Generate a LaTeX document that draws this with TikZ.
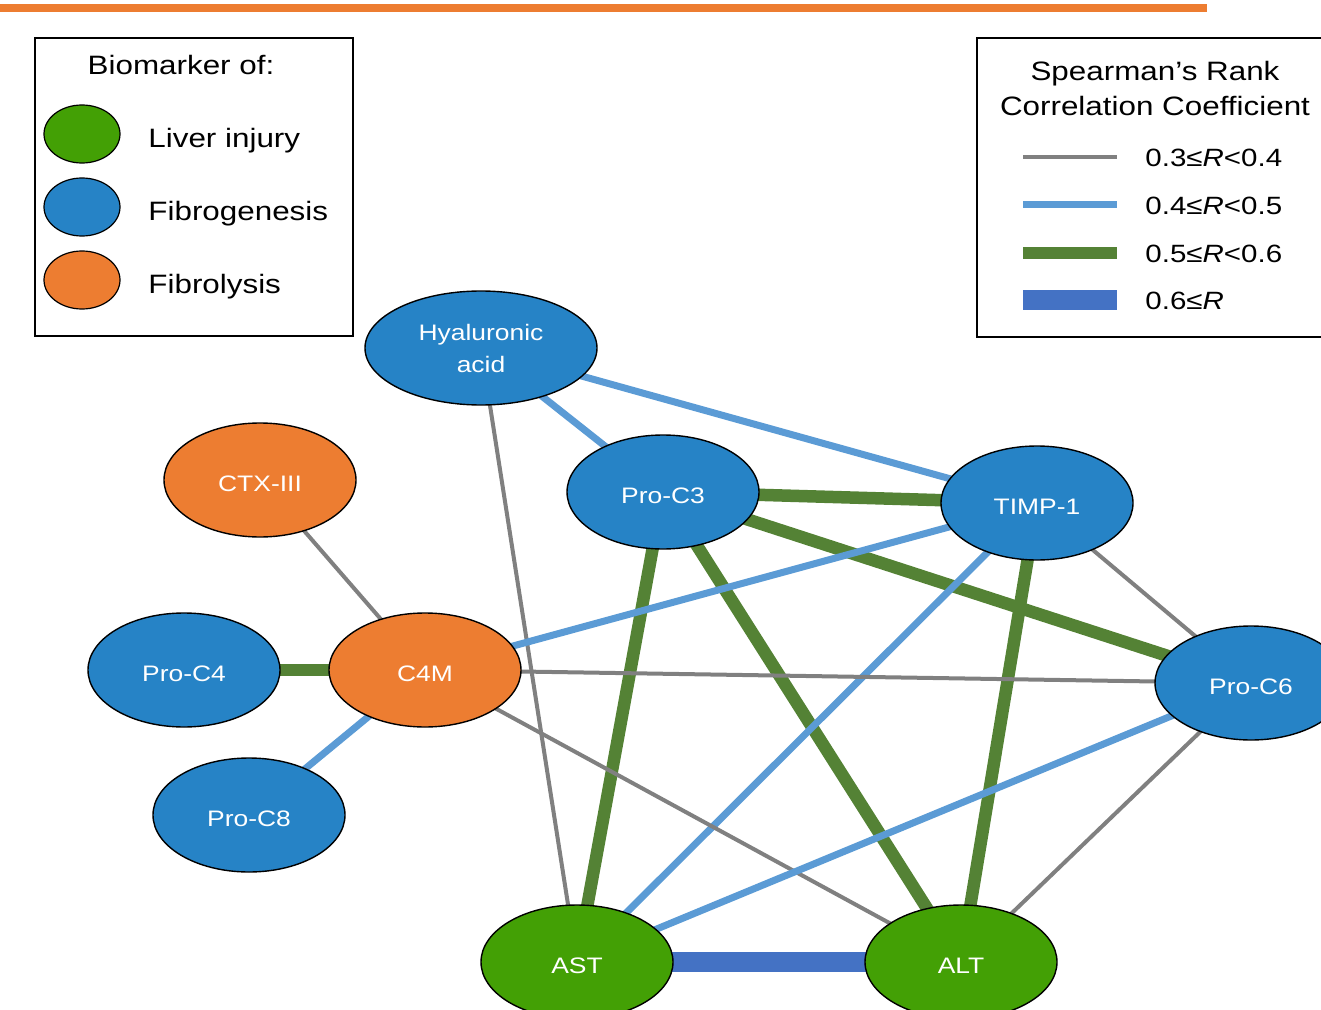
\documentclass[tikz,border=0pt]{standalone}
\usepackage{fontspec}
\setmainfont{Liberation Sans}[FakeStretch=1.18]
\usetikzlibrary{shapes,backgrounds}
\definecolor{injury}{HTML}{43A005}
\definecolor{genesis}{HTML}{2683C6}
\definecolor{lysis}{HTML}{ED7D31}
\definecolor{rgray}{HTML}{808080}
\definecolor{rlight}{HTML}{5B9BD5}
\definecolor{rgreen}{HTML}{548235}
\definecolor{rdark}{HTML}{4472C4}
\tikzstyle{marker} = [ellipse, draw=black, line width=0.7pt, text=white, fill=genesis,
    minimum width=96pt, minimum height=57pt, inner sep=0pt, align=center,
    text height=11pt, text depth=0pt, font=\fontsize{11.2}{16}\selectfont]
\tikzstyle{keybox} = [rectangle, draw=black, line width=1.25pt, inner sep=0pt]
\tikzstyle{keydot} = [ellipse, draw=black, line width=0.6pt, minimum width=38pt, minimum height=29pt]
\tikzstyle{keytext} = [anchor=base west, inner sep=0pt, font=\fontsize{13.3}{16}\selectfont]
\tikzstyle{weak} = [draw=rgray, line width=2pt]
\tikzstyle{fair} = [draw=rlight, line width=3.5pt]
\tikzstyle{good} = [draw=rgreen, line width=6.25pt]
\tikzstyle{strong} = [draw=rdark, line width=10pt]

\begin{document}
\begin{tikzpicture}[x=0.5pt, y=-0.5pt]
	\useasboundingbox (0,0) rectangle (1321,1010);
	\clip (0,0) rectangle (1321,1010);

		\fill [lysis] (0,4) rectangle (1207,12);

		\node [keybox, minimum width=159pt, minimum height=149pt] (types) at (194,187) {};
		\node [keytext, anchor=base, font=\fontsize{13.3}{16}\selectfont] (typestitle) at (181,75) {Biomarker of:};
		\node [keydot, fill=injury] (dotinjury) at (82,134) {};
		\node [keydot, fill=genesis] (dotgenesis) at (82,207) {};
		\node [keydot, fill=lysis] (dotlysis) at (82,280) {};
		\node [keytext] (txtinjury) at (148,148) {Liver injury};
		\node [keytext] (txtgenesis) at (148,221) {Fibrogenesis};
		\node [keytext] (txtlysis) at (148,294) {Fibrolysis};

		\node [keybox, minimum width=180pt, minimum height=149.5pt] (scale) at (1157,187.5) {};
		\node [align=center, inner sep=0pt, font=\fontsize{13.3}{17.5}\selectfont] (scaletitle) at (1155,88) {Spearman’s Rank\\Correlation Coefficient};
		\coordinate (kweak) at (1023,157);
		\coordinate (kfair) at (1023,205);
		\coordinate (kgood) at (1023,253);
		\coordinate (kstrong) at (1023,300);
		\path [weak] (kweak) -- ++(94,0);
		\path [fair] (kfair) -- ++(94,0);
		\path [good] (kgood) -- ++(94,0);
		\path [strong] (kstrong) -- ++(94,0);
		\node [keytext, font=\fontsize{12.5}{15}\selectfont] (lweak) at (1145,167) {0.3≤\textit{R}<0.4};
		\node [keytext, font=\fontsize{12.5}{15}\selectfont] (lfair) at (1145,215) {0.4≤\textit{R}<0.5};
		\node [keytext, font=\fontsize{12.5}{15}\selectfont] (lgood) at (1145,263) {0.5≤\textit{R}<0.6};
		\node [keytext, font=\fontsize{12.5}{15}\selectfont] (lstrong) at (1145,310) {0.6≤\textit{R}};

		\node [marker, minimum width=116pt, text height={}, text depth={}] (ha) at (481,348) {Hyaluronic\\acid};
		\node [marker, fill=lysis] (ctx) at (260,480) {CTX-III};
		\node [marker] (proc3) at (663,492) {Pro-C3};
		\node [marker] (timp) at (1037,503) {TIMP-1};
		\node [marker] (proc4) at (184,670) {Pro-C4};
		\node [marker, fill=lysis] (c4m) at (425,670) {C4M};
		\node [marker] (proc6) at (1251,683) {Pro-C6};
		\node [marker] (proc8) at (249,815) {Pro-C8};
		\node [marker, fill=injury] (ast) at (577,962) {AST};
		\node [marker, fill=injury] (alt) at (961,962) {ALT};

	\begin{pgfonlayer}{background}
		\path [fair] (ha.center) -- (timp.center);
		\path [fair] (ha.center) -- (proc3.center);
		\path [weak] (ha.center) -- (ast.center);
		\path [weak] (ctx.center) -- (c4m.center);
		\path [good] (proc3.center) -- (timp.center);
		\path [good] (proc3.center) -- (proc6.center);
		\path [good] (proc3.center) -- (ast.center);
		\path [good] (proc3.center) -- (alt.center);
		\path [fair] (timp.center) -- (c4m.center);
		\path [fair] (timp.center) -- (ast.center);
		\path [good] (timp.center) -- (alt.center);
		\path [weak] (timp.center) -- (proc6.center);
		\path [good] (proc4.center) -- (c4m.center);
		\path [weak] (c4m.center) -- (proc6.center);
		\path [fair] (c4m.center) -- (proc8.center);
		\path [weak] (c4m.center) -- (alt.center);
		\path [fair] (proc6.center) -- (ast.center);
		\path [weak] (proc6.center) -- (alt.center);
		\path [strong] (ast.center) -- (alt.center);
	\end{pgfonlayer}
	\end{tikzpicture}
\end{document}
